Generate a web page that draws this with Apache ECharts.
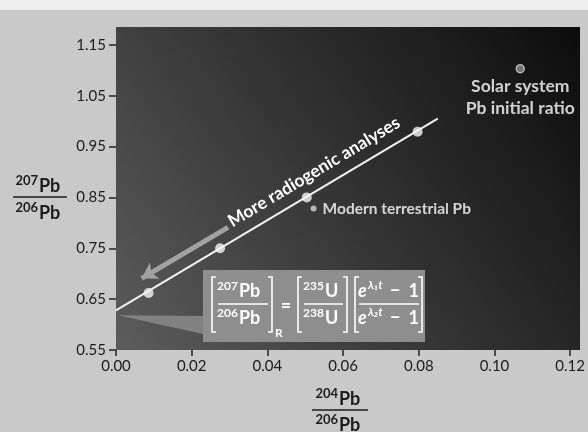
<!DOCTYPE html>
<html>
<head>
<meta charset="utf-8">
<script src="https://cdn.jsdelivr.net/npm/echarts@6/dist/echarts.min.js"></script>
<style>
html, body { margin: 0; padding: 0; background: #c9c9c9; }
#container { width: 588px; height: 432px; }
</style>
</head>
<body>
<div id="container"></div>
<script>
// tick values
var xTicks = [0, 0.02, 0.04, 0.06, 0.08, 0.10, 0.12];
var yTicks = [0.55, 0.65, 0.75, 0.85, 0.95, 1.05, 1.15];
// isochron line end points and analyses on it (204Pb/206Pb, 207Pb/206Pb)
var isochron = [[0, 0.628], [0.085, 1.005]];
var analyses = [[0.0086, 0.662], [0.0275, 0.750], [0.0504, 0.850], [0.0797, 0.979]];
var modernPb = [[0.0522, 0.828]];
var solarPb = [[0.1068, 1.103]];
// arrow "more radiogenic analyses"
var arrowFrom = [0.0296, 0.791];
var arrowTo = [0.0068, 0.691];

var dom = document.getElementById("container");
var myChart = echarts.init(dom);
var FONT = 'Lato, "Open Sans", sans-serif';

var option = {
    animation: false,
    backgroundColor: 'transparent',
    grid: {
        left: 116, top: 27, right: 0, bottom: 82,
        show: true,
        borderWidth: 0,
        backgroundColor: {
            type: 'linear', x: 0, y: 1, x2: 1, y2: 0,
            colorStops: [
                {offset: 0, color: '#5c5c5c'},
                {offset: 0.5, color: '#333333'},
                {offset: 1, color: '#0c0c0c'}
            ]
        }
    },
    xAxis: {
        type: 'value', min: 0, max: 0.1226, interval: 0.02,
        axisLine: {show: false},
        axisTick: {show: true, length: 6, customValues: xTicks, lineStyle: {color: '#222', width: 1.5}},
        axisLabel: {
            customValues: xTicks, margin: 9, color: '#1c1c1c', fontSize: 15, fontFamily: FONT,
            formatter: function (v) { return v.toFixed(2); }
        },
        splitLine: {show: false}
    },
    yAxis: {
        type: 'value', min: 0.55, max: 1.185, interval: 0.1,
        axisLine: {show: false},
        axisTick: {show: true, length: 7, customValues: yTicks, lineStyle: {color: '#222', width: 1.5}},
        axisLabel: {
            customValues: yTicks, margin: 10, color: '#1c1c1c', fontSize: 15, fontFamily: FONT,
            formatter: function (v) { return v.toFixed(2); }
        },
        splitLine: {show: false}
    },
    series: [
        {
            name: 'isochron', type: 'line', data: isochron, showSymbol: false, z: 3,
            lineStyle: {color: '#f2f2f2', width: 2},
            markLine: {
                silent: true, symbol: ['none', 'arrow'], symbolSize: [14, 15],
                label: {show: false},
                lineStyle: {color: '#a2a2a2', width: 5, type: 'solid'},
                data: [[{coord: arrowFrom}, {coord: arrowTo}]]
            }
        },
        {
            name: 'analyses', type: 'scatter', data: analyses, symbolSize: 10, z: 4,
            itemStyle: {color: '#f5f5f5'}
        },
        {
            name: 'modern', type: 'scatter', data: modernPb, symbolSize: 6, z: 4,
            itemStyle: {color: '#d5d5d5'},
            label: {
                show: true, position: 'right', distance: 6,
                formatter: 'Modern terrestrial Pb',
                color: '#fff', fontSize: 15.5, fontWeight: 'bold', fontFamily: FONT
            }
        },
        {
            name: 'solar', type: 'scatter', data: solarPb, symbolSize: 8, z: 4,
            itemStyle: {color: '#8a8a8a', borderColor: '#d0d0d0', borderWidth: 1.5},
            label: {
                show: true, position: 'bottom', distance: 2, align: 'center',
                formatter: 'Solar system\nPb initial ratio', lineHeight: 22,
                color: '#fff', fontSize: 17.5, fontWeight: 'bold', fontFamily: FONT
            }
        }
    ]
};
myChart.setOption(option, true);

// helpers for annotations
function txt(x, y, s, font, align, color) {
    return {type: 'text', x: x, y: y, z: 100, silent: true,
        style: {text: s, fill: color || '#fff', font: font, align: align || 'left', textAlign: align || 'left',
            verticalAlign: 'middle', textVerticalAlign: 'middle'}};
}
function iso(x, y, mass, sym, big, small, color) {
    return [
        txt(x - 1, y - 5, mass, small, 'right', color),
        txt(x, y, sym, big, 'left', color)
    ];
}
function seg(x1, y1, x2, y2, color, w) {
    return {type: 'line', z: 100, silent: true, shape: {x1: x1, y1: y1, x2: x2, y2: y2},
        style: {stroke: color, lineWidth: w}};
}
function bracket(x, y1, y2, dir) {
    return {type: 'polyline', z: 100, silent: true,
        shape: {points: [[x + dir * 4, y1], [x, y1], [x, y2], [x + dir * 4, y2]]},
        style: {stroke: '#fff', lineWidth: 1.6, fill: null}};
}

var g = [];
// light strip on top
g.push({type: 'rect', z: -1, silent: true, shape: {x: 0, y: 0, width: 588, height: 10}, style: {fill: '#eeeeee'}});

// y axis name
var axBig = 'bold 18px ' + FONT, axSmall = 'bold 13px ' + FONT;
g = g.concat(iso(39, 186, '207', 'Pb', axBig, axSmall, '#1c1c1c'));
g.push(seg(13, 197, 67, 197, '#1c1c1c', 1.5));
g = g.concat(iso(39, 213, '206', 'Pb', axBig, axSmall, '#1c1c1c'));
// x axis name
g = g.concat(iso(339, 399, '204', 'Pb', axBig, axSmall, '#1c1c1c'));
g.push(seg(312, 410, 368, 410, '#1c1c1c', 1.5));
g = g.concat(iso(339, 425, '206', 'Pb', axBig, axSmall, '#1c1c1c'));

// rotated arrow caption
g.push({type: 'text', x: 314, y: 172, rotation: 31 * Math.PI / 180, z: 100, silent: true,
    style: {text: 'More radiogenic analyses', fill: '#fff', font: 'bold 17.5px ' + FONT,
        align: 'center', textAlign: 'center', verticalAlign: 'middle', textVerticalAlign: 'middle'}});

// callout wedge from the intercept to the formula box
var icpt = myChart.convertToPixel({gridIndex: 0}, isochron[0]);
var ox = 203, oy = 270;
g.push({type: 'polygon', z: 90, silent: true,
    shape: {points: [[icpt[0] + 2, icpt[1] + 5], [ox, oy + 46], [ox, oy + 64]]},
    style: {fill: '#8a8a8a', opacity: 0.85}});
g.push({type: 'rect', z: 91, silent: true, shape: {x: ox, y: oy, width: 222, height: 72},
    style: {fill: '#8e8e8e'}});

// formula
var fBig = 'bold 18px ' + FONT, fSmall = 'bold 12px ' + FONT, fTop = oy + 21, fBot = oy + 48;
var fIt = 'italic bold 18px ' + FONT, fItSmall = 'italic bold 12px ' + FONT;
g.push(bracket(ox + 9, oy + 7, oy + 62, 1));
g = g.concat(iso(ox + 36, fTop, '207', 'Pb', fBig, fSmall));
g.push(seg(ox + 15, oy + 34, ox + 65, oy + 34, '#fff', 1.5));
g = g.concat(iso(ox + 36, fBot, '206', 'Pb', fBig, fSmall));
g.push(bracket(ox + 69, oy + 7, oy + 62, -1));
g.push(txt(ox + 72, oy + 63, 'R', 'bold 12px ' + FONT));
g.push(txt(ox + 83, oy + 36, '=', fBig, 'center'));
g.push(bracket(ox + 95, oy + 7, oy + 62, 1));
g = g.concat(iso(ox + 122, fTop, '235', 'U', fBig, fSmall));
g.push(seg(ox + 101, oy + 34, ox + 140, oy + 34, '#fff', 1.5));
g = g.concat(iso(ox + 122, fBot, '238', 'U', fBig, fSmall));
g.push(bracket(ox + 144, oy + 7, oy + 62, -1));
g.push(bracket(ox + 152, oy + 7, oy + 62, 1));
g.push(txt(ox + 155, fTop, 'e', fIt));
g.push(txt(ox + 165, fTop - 6, 'λ₁t', fItSmall));
g.push(txt(ox + 187, fTop, '−', fBig));
g.push(txt(ox + 216, fTop, '1', fBig, 'right'));
g.push(seg(ox + 156, oy + 34, ox + 216, oy + 34, '#fff', 1.5));
g.push(txt(ox + 155, fBot, 'e', fIt));
g.push(txt(ox + 165, fBot - 6, 'λ₂t', fItSmall));
g.push(txt(ox + 187, fBot, '−', fBig));
g.push(txt(ox + 216, fBot, '1', fBig, 'right'));
g.push(bracket(ox + 219, oy + 7, oy + 62, -1));

myChart.setOption({graphic: {elements: g}});
</script>
</body>
</html>
